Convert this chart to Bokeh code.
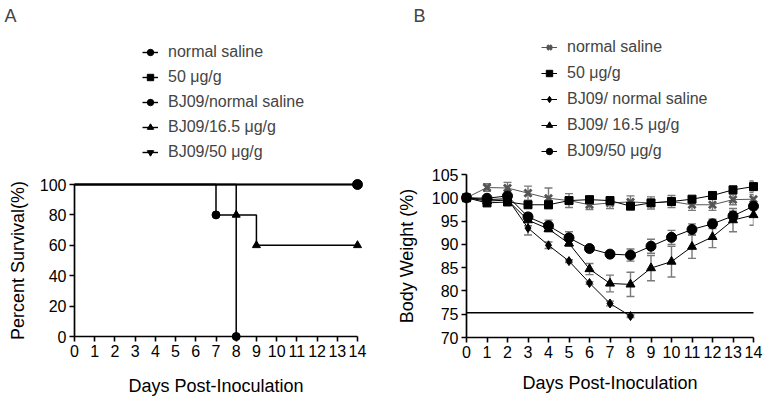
from bokeh.plotting import figure
from bokeh.layouts import row, column
from bokeh.models import Range1d, Legend, LegendItem, Whisker, TeeHead, ColumnDataSource, FixedTicker
from bokeh.embed import file_html
from bokeh.resources import INLINE

FONT = "Liberation Sans"

# ---------------- data ----------------
day_ticks = list(range(15))
days = list(range(15))

# Panel A: Kaplan-Meier survival
surv_ticks = [0, 20, 40, 60, 80, 100]
surv_labels = ["normal saline", "50 μg/g", "BJ09/normal saline", "BJ09/16.5 μg/g", "BJ09/50 μg/g"]
surv_days_ns = [0, 14]
surv_ns = [100, 100]
surv_days_50 = [0, 14]
surv_50 = [100, 100]
surv_days_bj_ns = [0, 7, 8]
surv_bj_ns = [100, 80, 0]
surv_days_bj_165 = [0, 8, 9, 14]
surv_bj_165 = [100, 80, 60, 60]
surv_days_bj_50 = [0, 14]
surv_bj_50 = [100, 100]

# Panel B: body weight (%), mean and SEM
weight_ticks = [70, 75, 80, 85, 90, 95, 100, 105]
weight_labels = ["normal saline", "50 μg/g", "BJ09/ normal saline", "BJ09/ 16.5 μg/g", "BJ09/50 μg/g"]
bw_ns = [100, 102.2, 102.1, 101.0, 99.9, 99.4, 98.5, 98.9, 99.1, 98.9, 99.2, 98.5, 98.5, 99.6, 99.7]
bw_ns_err = [0, 0.8, 1.2, 1.5, 2.2, 1.5, 1.0, 1.2, 1.3, 1.3, 1.3, 1.2, 1.2, 1.1, 1.0]
bw_50 = [100, 98.9, 99.1, 98.5, 98.5, 99.4, 99.6, 99.4, 98.2, 98.9, 99.2, 99.7, 100.5, 101.7, 102.4]
bw_50_err = [0, 0.4, 0.4, 0.6, 0.6, 0.5, 0.5, 0.5, 0.5, 0.5, 0.5, 0.5, 0.5, 0.8, 1.2]
bw_bj_ns = [100, 99.6, 99.8, 93.5, 89.8, 86.4, 81.7, 77.3, 74.6]
bw_bj_ns_err = [0, 0.3, 0.4, 1.5, 0.7, 0.3, 0.3, 0.5, 0.3]
bw_bj_165 = [100, 99.3, 99.5, 95.2, 93.3, 90.2, 84.7, 81.6, 81.4, 84.9, 86.3, 89.5, 91.6, 95.2, 96.3]
bw_bj_165_err = [0, 0.3, 0.5, 1.2, 0.6, 0.6, 1.2, 1.8, 2.6, 2.7, 3.3, 2.5, 2.3, 2.5, 2.2]
bw_bj_50 = [100, 99.9, 100.4, 95.9, 94.0, 91.4, 89.1, 87.9, 87.7, 89.6, 91.5, 93.2, 94.4, 96.1, 98.2]
bw_bj_50_err = [0, 0.3, 0.5, 0.8, 1.2, 1.3, 0.3, 0.4, 1.3, 1.5, 1.5, 1.2, 1.0, 1.0, 0.6]
threshold = 75.3

W = 384
TOTAL_H = 400
TOP_H = 163
BOT_H = TOTAL_H - TOP_H


def style_axes(p, yticks, xlabel, ylabel, xstand, ystand):
    p.xgrid.visible = False
    p.ygrid.visible = False
    p.outline_line_color = None
    p.xaxis.ticker = FixedTicker(ticks=day_ticks)
    p.yaxis.ticker = FixedTicker(ticks=yticks)
    p.xaxis.axis_label = xlabel
    p.yaxis.axis_label = ylabel
    for ax in (p.xaxis[0], p.yaxis[0]):
        ax.axis_line_width = 1.7
        ax.axis_line_color = "black"
        ax.major_tick_line_width = 1.6
        ax.major_tick_line_color = "black"
        ax.major_tick_out = 5
        ax.major_tick_in = 0
        ax.minor_tick_line_color = None
        ax.major_label_text_font = FONT
        ax.major_label_text_font_size = "16px"
        ax.major_label_text_color = "black"
        ax.major_label_standoff = 3
        ax.axis_label_text_font = FONT
        ax.axis_label_text_font_size = "18px"
        ax.axis_label_text_font_style = "normal"
        ax.axis_label_text_color = "black"
    p.xaxis.axis_label_standoff = xstand
    p.yaxis.axis_label_standoff = ystand


def make_top(title, offset):
    t = figure(width=W, height=TOP_H, x_range=Range1d(0, 1), y_range=Range1d(0, 1),
               x_axis_type=None, y_axis_type=None, output_backend="svg", toolbar_location=None,
               min_border_left=0, min_border_right=0, min_border_top=0, min_border_bottom=0,
               title=title)
    t.xgrid.visible = False
    t.ygrid.visible = False
    t.outline_line_color = None
    t.title.text_font = FONT
    t.title.text_font_size = "18px"
    t.title.text_font_style = "normal"
    t.title.align = "left"
    t.title.vertical_align = "top"
    t.title.offset = offset
    return t


def make_legend(items, x, y, spacing):
    return Legend(items=items, location=(x, y), orientation="vertical",
                  border_line_color=None, background_fill_alpha=0,
                  label_text_font=FONT, label_text_font_size="16px",
                  glyph_width=16, glyph_height=20, label_height=20,
                  spacing=spacing, padding=0, margin=0, label_standoff=10)


# ---------------- Panel A ----------------
ta = make_top("A", -70)
pa = figure(width=W, height=BOT_H, x_range=Range1d(0, 14), y_range=Range1d(0, 100),
            output_backend="svg", toolbar_location=None,
            min_border_left=74, min_border_right=27, min_border_top=184 - TOP_H, min_border_bottom=64)
style_axes(pa, surv_ticks, "Days Post-Inoculation", "Percent Survival(%)", 16, 9)

a_series = [
    (surv_days_50, surv_50, "square", 7),
    (surv_days_bj_50, surv_bj_50, "inverted_triangle", 7),
    (surv_days_bj_165, surv_bj_165, "triangle", 8),
    (surv_days_bj_ns, surv_bj_ns, "circle", 8),
    (surv_days_ns, surv_ns, "circle", 10),
]
a_proxy = {}
for xs, ys, mk, sz in a_series:
    pa.step(xs, ys, mode="after", line_color="black", line_width=1.5, level="overlay")
    pa.scatter(xs[1:], ys[1:], marker=mk, size=sz, color="black", level="overlay")
    # legend keys in the header figure (data lie outside its view)
    ln = ta.line(xs, ys, line_color="black", line_width=1.4)
    sc = ta.scatter(xs[1:], ys[1:], marker=mk, size=8 if mk != "inverted_triangle" else 7, color="black")
    a_proxy[mk + str(sz)] = [ln, sc]
a_items = [
    LegendItem(label=surv_labels[0], renderers=a_proxy["circle10"]),
    LegendItem(label=surv_labels[1], renderers=a_proxy["square7"]),
    LegendItem(label=surv_labels[2], renderers=a_proxy["circle8"]),
    LegendItem(label=surv_labels[3], renderers=a_proxy["triangle8"]),
    LegendItem(label=surv_labels[4], renderers=a_proxy["inverted_triangle7"]),
]
ta.add_layout(make_legend(a_items, 68, 1, 5))

# ---------------- Panel B ----------------
tb = make_top("B", -53)
pb = figure(width=W, height=BOT_H, x_range=Range1d(0, 14), y_range=Range1d(70, 105),
            output_backend="svg", toolbar_location=None,
            min_border_left=82, min_border_right=15, min_border_top=174 - TOP_H, min_border_bottom=63)
style_axes(pb, weight_ticks, "Days Post-Inoculation", "Body Weight (%)", 12, 12)

b_series = [
    (bw_ns, bw_ns_err, "x", 10, "#555555", 2.8),
    (bw_50, bw_50_err, "square", 8, "black", 1),
    (bw_bj_ns, bw_bj_ns_err, "diamond", 9, "black", 1),
    (bw_bj_165, bw_bj_165_err, "triangle", 9, "black", 1),
    (bw_bj_50, bw_bj_50_err, "circle", 10, "black", 1),
]
b_items = []
for (vals, errs, mk, sz, col, lw), lab in zip(b_series, weight_labels):
    n = len(vals)
    src = ColumnDataSource(dict(x=days[:n], y=vals,
                                lo=[v - e for v, e in zip(vals, errs)],
                                hi=[v + e for v, e in zip(vals, errs)]))
    wk = Whisker(base="x", lower="lo", upper="hi", source=src, line_color="#7a7a7a", line_width=1.4,
                 upper_head=TeeHead(size=8, line_color="#7a7a7a", line_width=1.4),
                 lower_head=TeeHead(size=8, line_color="#7a7a7a", line_width=1.4))
    pb.add_layout(wk)
    lcol = "#555555" if col != "black" else "black"
    pb.line("x", "y", source=src, line_color=lcol, line_width=1, level="overlay")
    pb.scatter("x", "y", source=src, marker=mk, size=sz, line_color=col, fill_color=col,
               line_width=lw, level="overlay")
    ln = tb.line(days[:n], vals, line_color=lcol, line_width=1)
    sc = tb.scatter(days[:n], vals, marker=mk, size=sz - 1, line_color=col, fill_color=col, line_width=lw)
    b_items.append(LegendItem(label=lab, renderers=[ln, sc]))

pb.line([0, 14], [threshold, threshold], line_color="black", line_width=1.6, level="overlay")
tb.add_layout(make_legend(b_items, 75, 2, 6))

layout = row(column(ta, pa), column(tb, pb))
open("out.html", "w").write(file_html(layout, INLINE))
